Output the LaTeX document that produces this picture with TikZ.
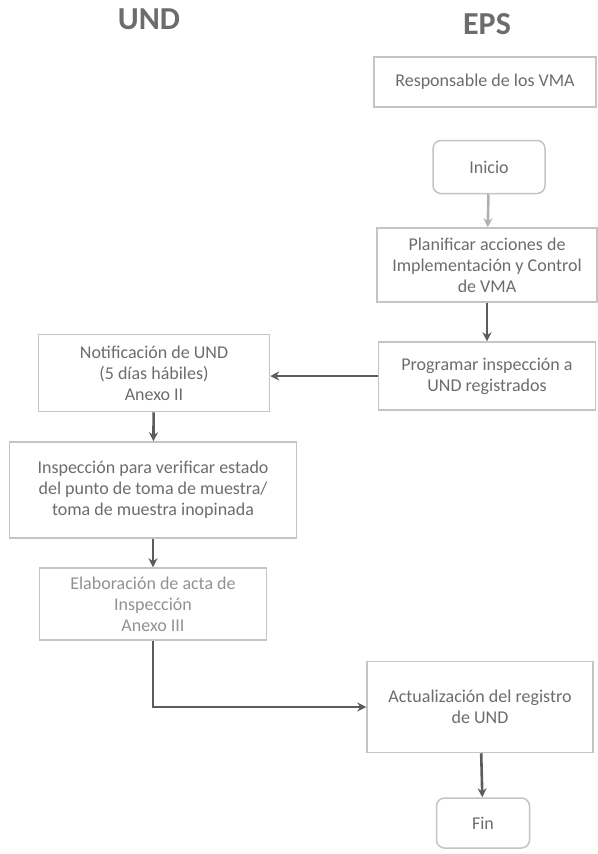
\documentclass[tikz,border=0pt]{standalone}
\usepackage{fontspec}
\setmainfont{Carlito}
\usepackage{xcolor}
\usepackage{tikz}
\usetikzlibrary{arrows.meta}
\definecolor{linegray}{HTML}{C4C4C4}
\definecolor{textgray}{HTML}{6C6C6C}
\definecolor{arrowgray}{HTML}{5C5C5C}
\begin{document}
\begin{tikzpicture}[x=1pt, y=-1pt,
    box/.style={rectangle, draw=linegray, line width=1.5pt, align=center, text=textgray, inner sep=0pt, font=\fontsize{18}{21}\selectfont},
    term/.style={box, rounded corners=8pt},
    title/.style={text=textgray, font=\fontsize{32}{34}\selectfont\bfseries},
    arrow/.style={-{Stealth[length=9pt,width=9pt]}, line width=2.6pt, draw=arrowgray},
    lightarrow/.style={arrow, draw=linegray!90!black}
]
\useasboundingbox (0,0) rectangle (597,854);

% Titles
\node[title] (und) at (149,19) {UND};
\node[title] (eps) at (487,24) {EPS};

% EPS nodes
\node[box, minimum width=222pt, minimum height=50pt] (resp) at (485,82) {Responsable de los VMA};
\node[term, minimum width=112pt, minimum height=53pt] (inicio) at (489,167) {Inicio};
\node[box, minimum width=220pt, minimum height=74pt] (plan) at (487,265) {Planificar acciones de\\Implementación y Control\\de VMA};
\node[box, minimum width=217pt, minimum height=68pt] (prog) at (487,376) {Programar inspección a\\UND registrados};
\node[box, minimum width=226pt, minimum height=91pt] (act) at (480,707) {Actualización del registro\\de UND};
\node[term, minimum width=93pt, minimum height=50pt] (fin) at (483,823) {Fin};

% UND nodes
\node[box, minimum width=231pt, minimum height=77pt] (notif) at (154,373) {Notificación de UND\\(5 días hábiles)\\Anexo II};
\node[box, minimum width=287pt, minimum height=96pt] (insp) at (153,490) {Inspección para verificar estado\\del punto de toma de muestra/\\toma de muestra inopinada};
\node[box, minimum width=227pt, minimum height=72pt, text=textgray!75] (elab) at (153,604) {Elaboración de acta de\\Inspección\\Anexo III};

% Arrows
\draw[lightarrow] (inicio) -- (plan);
\draw[arrow] (plan) -- (prog);
\draw[arrow] (prog.west) -- (notif.east |- prog.west);
\draw[arrow] (notif) -- (insp);
\draw[arrow] (insp) -- (elab);
\draw[arrow] (elab.south) |- (act.west);
\draw[arrow] (act) -- (fin);

\end{tikzpicture}
\end{document}
